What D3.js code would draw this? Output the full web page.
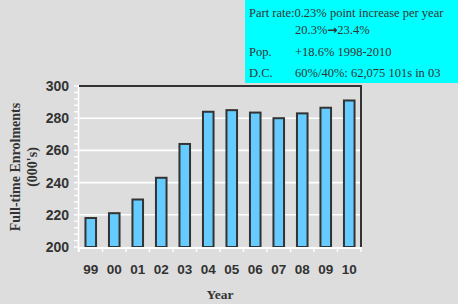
<!DOCTYPE html>
<html>
<head>
<meta charset="utf-8">
<script src="https://cdn.jsdelivr.net/npm/d3@7"></script>
<style>
  html, body { margin: 0; padding: 0; background: #dddddd; }
  svg { display: block; }
</style>
</head>
<body>
<div id="vis"></div>
<script>
var width = 458;
var height = 304;

// chart data
var years = ["99", "00", "01", "02", "03", "04", "05", "06", "07", "08", "09", "10"];
var enrolments = [218, 221, 229.5, 243, 264, 284, 285, 283.5, 280, 283, 286.5, 291];
var yTicks = [200, 220, 240, 260, 280, 300];
var noteLabels = ["", "", "Pop.", "D.C."];
var noteValues = ["Part rate:0.23% point increase per year", "20.3%\u219223.4%", "+18.6% 1998-2010", "60%/40%: 62,075 101s in 03"];

var plotLeft = 79, plotRight = 361, plotTop = 86, plotBottom = 247;

var svg = d3.select('#vis')
    .append('svg')
    .attr('width', width)
    .attr('height', height);

svg.append('rect')
    .attr('width', width)
    .attr('height', height)
    .attr('fill', '#dddddd');

var x = d3.scaleBand().domain(years).range([plotLeft, plotRight]).paddingInner(0.55).paddingOuter(0.275);
var y = d3.scaleLinear().domain([200, 300]).range([plotBottom, plotTop]);

// white gridlines
svg.append('g').selectAll('line')
    .data(yTicks.filter(function (d) { return d > 200 && d < 300; }))
    .enter().append('line')
    .attr('x1', plotLeft).attr('x2', plotRight)
    .attr('y1', function (d) { return y(d); })
    .attr('y2', function (d) { return y(d); })
    .attr('stroke', '#ffffff')
    .attr('stroke-width', 1.6);

// left axis, white with minor ticks
var minor = d3.range(200, 301, 4);
svg.append('g').selectAll('line')
    .data(minor)
    .enter().append('line')
    .attr('x1', plotLeft - 5).attr('x2', plotLeft)
    .attr('y1', function (d) { return y(d); })
    .attr('y2', function (d) { return y(d); })
    .attr('stroke', '#ffffff')
    .attr('stroke-width', 1.4);
svg.append('line')
    .attr('x1', plotLeft - 0.5).attr('x2', plotLeft - 0.5)
    .attr('y1', plotTop - 1).attr('y2', plotBottom + 5)
    .attr('stroke', '#ffffff')
    .attr('stroke-width', 1.6);

// dark frame top & right
svg.append('path')
    .attr('d', 'M' + plotLeft + ',' + plotTop + 'H' + plotRight + 'V' + (plotBottom + 1))
    .attr('fill', 'none')
    .attr('stroke', '#333333')
    .attr('stroke-width', 2);

// bars
svg.append('g').selectAll('rect')
    .data(enrolments)
    .enter().append('rect')
    .attr('x', function (d, i) { return x(years[i]); })
    .attr('y', function (d) { return y(d); })
    .attr('width', x.bandwidth())
    .attr('height', function (d) { return y(200) - y(d); })
    .attr('fill', '#66ccff')
    .attr('stroke', '#333333')
    .attr('stroke-width', 2);

// bottom axis, white with ticks at band edges (drawn over bar bottoms)
svg.append('line')
    .attr('x1', plotLeft - 1).attr('x2', plotRight + 1)
    .attr('y1', plotBottom + 1).attr('y2', plotBottom + 1)
    .attr('stroke', '#ffffff')
    .attr('stroke-width', 2);
svg.append('g').selectAll('line')
    .data(d3.range(years.length + 1))
    .enter().append('line')
    .attr('x1', function (i) { return plotLeft + i * x.step(); })
    .attr('x2', function (i) { return plotLeft + i * x.step(); })
    .attr('y1', plotBottom + 1.5).attr('y2', plotBottom + 5)
    .attr('stroke', '#ffffff')
    .attr('stroke-width', 1.4);

// y tick labels
svg.append('g').selectAll('text')
    .data(yTicks)
    .enter().append('text')
    .attr('x', 69)
    .attr('y', function (d) { return y(d) + 5; })
    .attr('text-anchor', 'end')
    .attr('font-family', 'Liberation Sans, Arial, sans-serif')
    .attr('font-weight', 'bold')
    .attr('font-size', 14)
    .attr('fill', '#333333')
    .text(function (d) { return d; });

// x tick labels
svg.append('g').selectAll('text')
    .data(years)
    .enter().append('text')
    .attr('x', function (d) { return x(d) + x.bandwidth() / 2; })
    .attr('y', 274)
    .attr('text-anchor', 'middle')
    .attr('font-family', 'Liberation Sans, Arial, sans-serif')
    .attr('font-weight', 'bold')
    .attr('font-size', 13.5)
    .attr('fill', '#333333')
    .text(function (d) { return d; });

// axis titles
svg.append('text')
    .attr('x', 220).attr('y', 299)
    .attr('text-anchor', 'middle')
    .attr('font-family', 'Liberation Serif, Times New Roman, serif')
    .attr('font-weight', 'bold')
    .attr('font-size', 13.5)
    .attr('fill', '#333333')
    .text('Year');

var yTitle = svg.append('g').attr('transform', 'translate(20,167) rotate(-90)');
yTitle.append('text')
    .attr('text-anchor', 'middle')
    .attr('font-family', 'Liberation Serif, Times New Roman, serif')
    .attr('font-weight', 'bold')
    .attr('font-size', 14)
    .attr('fill', '#333333')
    .text('Full-time Enrolments');
yTitle.append('text')
    .attr('y', 17)
    .attr('text-anchor', 'middle')
    .attr('font-family', 'Liberation Serif, Times New Roman, serif')
    .attr('font-weight', 'bold')
    .attr('font-size', 14)
    .attr('fill', '#333333')
    .text("(000's)");

// cyan note box
svg.append('rect')
    .attr('x', 245).attr('y', 0)
    .attr('width', width - 245).attr('height', 83)
    .attr('fill', '#00ffff');

var noteY = [17, 34, 56, 77];
var notes = svg.append('g')
    .attr('font-family', 'Liberation Serif, Times New Roman, serif')
    .attr('font-size', 12.5)
    .attr('fill', '#333333');
notes.selectAll('text.lab')
    .data(noteLabels)
    .enter().append('text')
    .attr('class', 'lab')
    .attr('x', 249)
    .attr('y', function (d, i) { return noteY[i]; })
    .text(function (d) { return d; });
notes.selectAll('text.val')
    .data(noteValues)
    .enter().append('text')
    .attr('class', 'val')
    .attr('x', function (d, i) { return i === 0 ? 249 : 295; })
    .attr('y', function (d, i) { return noteY[i]; })
    .each(function (d) {
        var t = d3.select(this);
        var parts = d.split('\u2192');
        t.append('tspan').text(parts[0]);
        if (parts.length > 1) {
            t.append('tspan')
                .attr('font-family', 'DejaVu Sans, sans-serif')
                .attr('font-weight', 'bold')
                .attr('font-size', 12)
                .text('\u2192');
            t.append('tspan').text(parts[1]);
        }
    });
</script>
</body>
</html>
